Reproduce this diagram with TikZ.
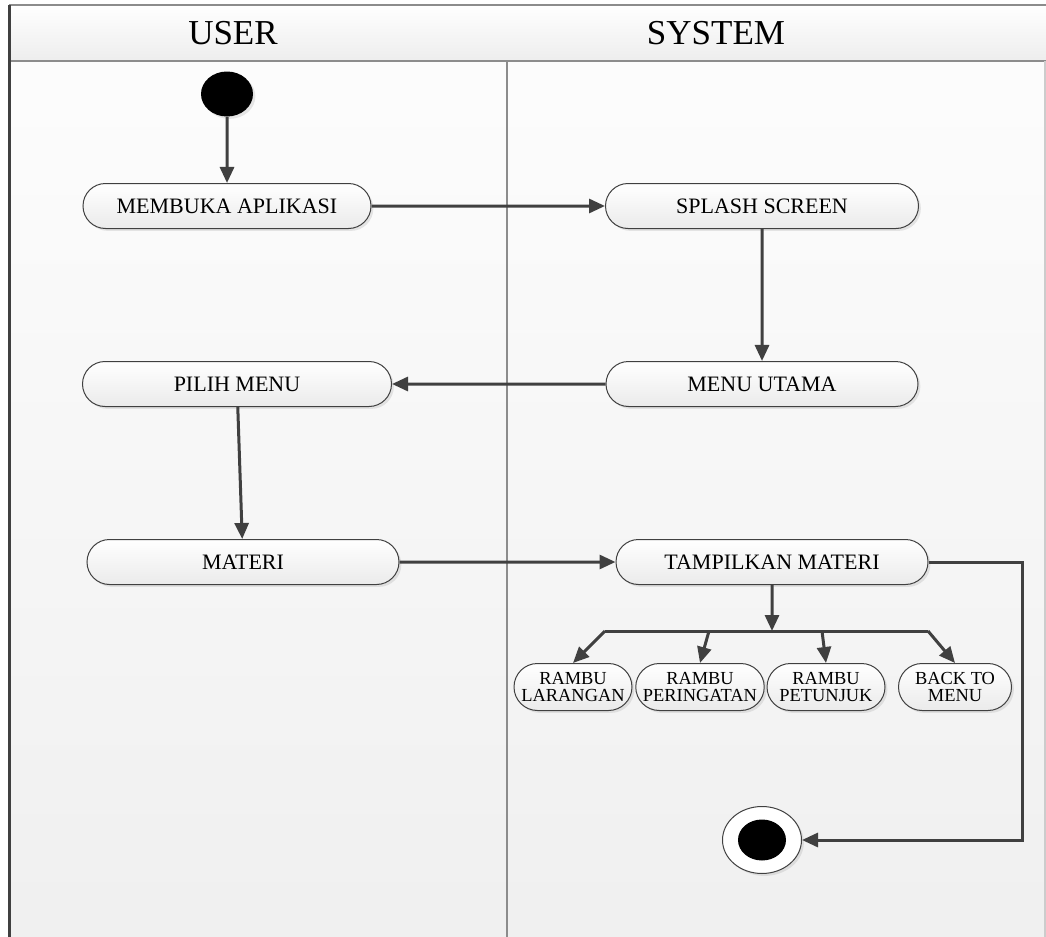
\documentclass[tikz,border=0pt]{standalone}
\usepackage{fontspec}
\setmainfont{Liberation Serif}
\usepackage{tikz}
\usetikzlibrary{positioning, arrows.meta, shapes.geometric, shapes.misc, shadows}

\definecolor{linegray}{HTML}{404040}
\definecolor{framegray}{HTML}{8C8C8C}

\begin{document}
\begin{tikzpicture}[
    x=0.5pt, y=-0.5pt,
    every node/.style={font=\fontsize{11}{12}\selectfont},
    act/.style={draw=linegray, line width=0.5pt, rounded rectangle, top color=white, bottom color=gray!16,
                minimum height=22.5pt, inner sep=2pt,
                drop shadow={shadow xshift=1.2pt, shadow yshift=-1.2pt, opacity=0.18, fill=gray}},
    branch/.style={act, minimum height=23.5pt, align=center, inner sep=1pt, font=\fontsize{9.2}{8.6}\selectfont},
    headtxt/.style={font=\fontsize{17.5}{18}\selectfont},
    flow/.style={-{Triangle[length=8pt, width=7pt]}, line width=1.5pt, draw=linegray},
    bar/.style={line width=1.5pt, draw=linegray},
]
\useasboundingbox (0,0) rectangle (1046,937);

% --- Swimlanes ---
\shade[top color=gray!2, bottom color=gray!12] (9,61) rectangle (1046,937);
\shade[top color=white, bottom color=gray!14] (9,5) rectangle (1046,61);
\draw[framegray, line width=1pt] (9,5) -- (1046,5);
\draw[framegray, line width=1pt] (9,61) -- (1046,61);
\draw[framegray, line width=1pt] (507,61) -- (507,937);
\draw[gray!40, line width=0.8pt] (1045,61) -- (1045,937);
\draw[linegray, line width=1.5pt] (9,5) -- (9,937);
\node[headtxt] (user)   at (233,33) {USER};
\node[headtxt] (system) at (716,33) {SYSTEM};

% --- User lane ---
\node[ellipse, fill=black, minimum width=26pt, minimum height=22.5pt, inner sep=0pt,
      drop shadow={shadow xshift=1.2pt, shadow yshift=-1.2pt, opacity=0.18, fill=gray}] (start) at (227,94) {};
\node[act, minimum width=148pt]   (open)   at (227,206) {MEMBUKA APLIKASI};
\node[act, minimum width=158.5pt] (pilih)  at (237,384) {PILIH MENU};
\node[act, minimum width=160pt]   (materi) at (243,562) {MATERI};

% --- System lane ---
\node[act, minimum width=160.5pt] (splash) at (762,206) {SPLASH SCREEN};
\node[act, minimum width=160pt]   (utama)  at (762,384) {MENU UTAMA};
\node[act, minimum width=160pt]   (tampil) at (772,562) {TAMPILKAN MATERI};
\node[branch, minimum width=61pt]   (larangan)   at (573,687) {RAMBU\\LARANGAN};
\node[branch, minimum width=62.5pt] (peringatan) at (700,687) {RAMBU\\PERINGATAN};
\node[branch, minimum width=61pt]   (petunjuk)   at (826,687) {RAMBU\\PETUNJUK};
\node[branch, minimum width=58.5pt] (back)       at (955,687) {BACK TO\\MENU};
\node[ellipse, draw=linegray, line width=0.5pt, fill=white, minimum width=39.5pt, minimum height=33.5pt,
      drop shadow={shadow xshift=1.2pt, shadow yshift=-1.2pt, opacity=0.18, fill=gray}] (stop) at (762,840) {};
\node[ellipse, fill=black, minimum width=24pt, minimum height=20.5pt, inner sep=0pt] (stopdot) at (stop) {};

% --- Fork points ---
\coordinate (fork) at (772,631);
\coordinate (barL) at (605,631);
\coordinate (barR) at (928,631);
\coordinate (b2)   at (709,631);
\coordinate (b3)   at (822,631);
\coordinate (turn) at (1022,840);

% --- Arrows ---
\draw[flow] (start) -- (open);
\draw[flow] (open) -- (splash);
\draw[flow] (splash) -- (utama);
\draw[flow] (utama) -- (pilih);
\draw[flow] (pilih) -- (materi);
\draw[flow] (materi) -- (tampil);
\draw[flow] (tampil) -- (fork);
\draw[bar]  (barL) -- (barR);
\draw[flow] (barL) -- (larangan.north);
\draw[flow] (b2) -- (peringatan.north);
\draw[flow] (b3) -- (petunjuk.north);
\draw[flow] (barR) -- (back.north);
\draw[flow] (tampil.east) -| (turn) -- (stop.east);
\end{tikzpicture}
\end{document}
